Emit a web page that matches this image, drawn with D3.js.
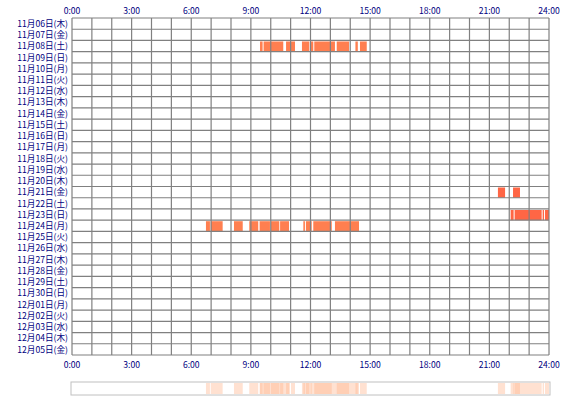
<!DOCTYPE html>
<html><head><meta charset="utf-8">
<script src="https://cdn.jsdelivr.net/npm/d3@7"></script>
<style>body{margin:0;background:#fff}text{font-family:"Noto Sans CJK JP",sans-serif;font-size:8.6px;fill:#000080}</style>
</head><body><svg id="c" width="570" height="400"></svg>
<script>
const days = ["11月06日(木)","11月07日(金)","11月08日(土)","11月09日(日)","11月10日(月)","11月11日(火)","11月12日(水)","11月13日(木)","11月14日(金)","11月15日(土)","11月16日(日)","11月17日(月)","11月18日(火)","11月19日(水)","11月20日(木)","11月21日(金)","11月22日(土)","11月23日(日)","11月24日(月)","11月25日(火)","11月26日(水)","11月27日(木)","11月28日(金)","11月29日(土)","11月30日(日)","12月01日(月)","12月02日(火)","12月03日(水)","12月04日(木)","12月05日(金)"];
const hourTicks = [0,3,6,9,12,15,18,21,24];
// [day index, start hour, end hour]
const sessions = [
  [2,9.46,9.59],[2,9.64,10.63],[2,10.77,10.97],[2,11.02,11.22],[2,11.57,11.94],[2,12.01,12.14],
  [2,12.19,13.23],[2,13.32,13.94],[2,14.26,14.38],[2,14.49,14.83],
  [15,21.43,21.79],[15,22.19,22.54],
  [17,22.07,22.22],[17,22.27,23.63],[17,23.68,23.75],[17,23.8,24.0],
  [18,6.74,6.94],[18,6.98,7.58],[18,8.15,8.59],[18,8.92,9.37],[18,9.44,9.96],[18,10.01,10.43],
  [18,10.47,10.92],[18,11.64,11.72],[18,11.77,12.06],[18,12.14,13.07],[18,13.23,14.44]
];
const redRows = [15,17];

const svg = d3.select("#c");
const x = d3.scaleLinear().domain([0,24]).range([72,549]);
const y = d3.scaleBand().domain(d3.range(days.length)).range([18,355]);

const g = svg.append("g");
g.selectAll(".s").data(sessions).join("rect")
  .attr("x", d => x(d[1])).attr("width", d => x(d[2]) - x(d[1]))
  .attr("y", d => y(d[0]) + 1).attr("height", y.bandwidth() - 1)
  .attr("fill", d => redRows.includes(d[0]) ? "#ff6645" : "#ff7f50");

// grid
g.selectAll(".v").data(d3.range(0,25)).join("line")
  .attr("x1", d => x(d)).attr("x2", d => x(d)).attr("y1", 18).attr("y2", 355)
  .attr("stroke", "#808080").attr("stroke-width", 1.2);
g.selectAll(".h").data(d3.range(0,days.length+1)).join("line")
  .attr("x1", 72).attr("x2", 549)
  .attr("y1", d => 18 + d*y.step()).attr("y2", d => 18 + d*y.step())
  .attr("stroke", "#808080").attr("stroke-width", 1.2);

const fmt = d => d + ":00";
[14, 368].forEach(ty => {
  svg.selectAll(null).data(hourTicks).join("text")
    .attr("x", d => x(d)).attr("y", ty).attr("text-anchor","middle").text(fmt);
});
svg.selectAll(".dl").data(days).join("text")
  .attr("x", 68).attr("y", (d,i) => y(i) + y.bandwidth()/2 + 3.2)
  .attr("text-anchor","end").text(d => d);

// summary strip
svg.append("rect").attr("x",71).attr("y",382).attr("width",479).attr("height",13)
  .attr("fill","#fff").attr("stroke","#c0c0c0");
svg.selectAll(".sum").data(sessions).join("rect")
  .attr("x", d => x(d[1])).attr("width", d => x(d[2]) - x(d[1]))
  .attr("y", 383).attr("height", 11).attr("fill", "#ffb48c").attr("opacity", 0.4);
</script></body></html>
